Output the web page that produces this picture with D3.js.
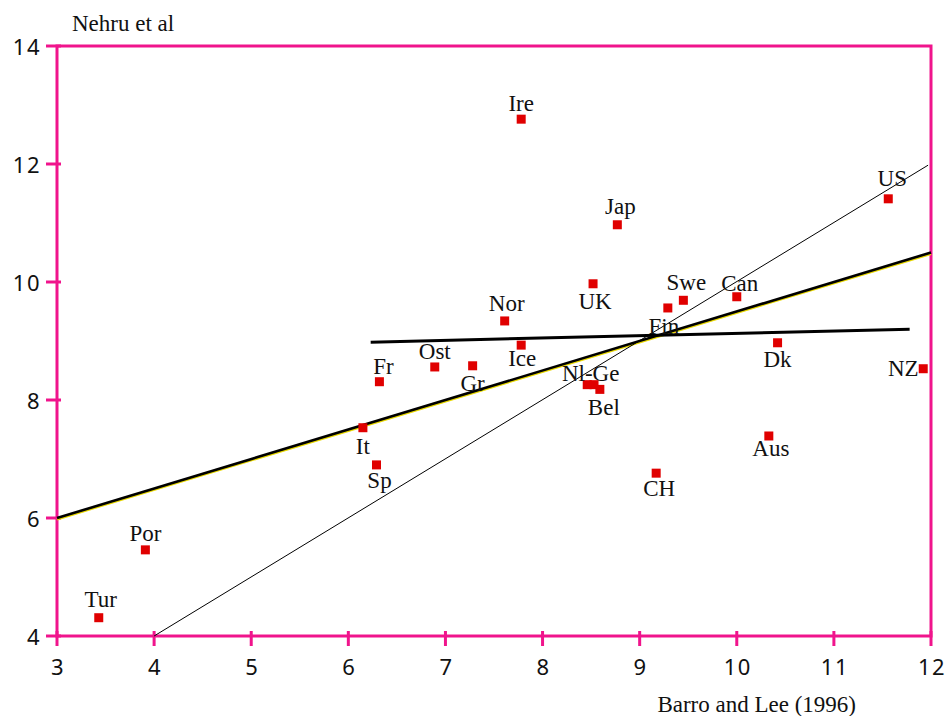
<!DOCTYPE html>
<html><head><meta charset="utf-8">
<script src="https://cdn.jsdelivr.net/npm/d3@7"></script>
<style>body{margin:0;background:#fff}</style>
</head><body>
<svg id="c" width="950" height="716"></svg>
<script>
const countries = ["Tur","Por","It","Sp","Fr","Ost","Gr","Nor","Ice","Ire","UK","Nl","Ge","Bel","Jap","CH","Fin","Swe","Can","Dk","Aus","US","NZ"];
const barroLee  = [3.43,3.91,6.15,6.29,6.32,6.89,7.28,7.61,7.78,7.78,8.52,8.46,8.53,8.59,8.77,9.17,9.29,9.45,10.0,10.42,10.33,11.56,11.92];
const nehru     = [4.31,5.46,7.53,6.90,8.31,8.56,8.58,9.34,8.93,12.76,9.97,8.26,8.26,8.18,10.97,6.76,9.56,9.69,9.75,8.97,7.39,11.41,8.53];
const xTicks = [3,4,5,6,7,8,9,10,11,12];
const yTicks = [4,6,8,10,12,14];
const fitLine  = [[3,6.0],[12,10.5]];
const diagLine = [[4,4.0],[11.97,11.98]];
const flatLine = [[6.23,8.98],[11.78,9.2]];
const xTitle = "Barro and Lee (1996)";
const yTitle = "Nehru et al";

const svg = d3.select("#c");
const L=57, R=931, T=46, B=636;
const x = d3.scaleLinear().domain([3,12]).range([L,R]);
const y = d3.scaleLinear().domain([4,14]).range([B,T]);
const pink = "#f0148c";
const serif = "Liberation Serif, Times New Roman, serif";
const sans = "Noto Sans, sans-serif";

// frame
svg.append("rect").attr("x",L).attr("y",T).attr("width",R-L).attr("height",B-T)
  .attr("fill","none").attr("stroke",pink).attr("stroke-width",3);

// x axis ticks
svg.append("g").selectAll("line").data(xTicks).join("line")
  .attr("x1",d=>x(d)).attr("x2",d=>x(d)).attr("y1",B-5).attr("y2",B+10)
  .attr("stroke",pink).attr("stroke-width",3);
svg.append("g").selectAll("text").data(xTicks).join("text")
  .attr("x",d=>x(d)+1).attr("y",B+39).attr("text-anchor","middle")
  .attr("font-family",sans).attr("font-size",22).attr("letter-spacing",1.5).attr("fill","#111")
  .text(d=>d);
// y axis ticks
svg.append("g").selectAll("line").data(yTicks).join("line")
  .attr("x1",L-11).attr("x2",L+4).attr("y1",d=>y(d)).attr("y2",d=>y(d))
  .attr("stroke",pink).attr("stroke-width",3);
svg.append("g").selectAll("text").data(yTicks).join("text")
  .attr("x",L-16).attr("y",d=>y(d)+9).attr("text-anchor","end")
  .attr("font-family",sans).attr("font-size",22).attr("letter-spacing",1.5).attr("fill","#111")
  .text(d=>d);

// titles
svg.append("text").attr("x",72).attr("y",31).attr("font-family",serif)
  .attr("font-size",23).attr("fill","#111").text(yTitle);
svg.append("text").attr("x",856).attr("y",712).attr("text-anchor","end").attr("font-family",serif)
  .attr("font-size",23).attr("fill","#111").text(xTitle);

// lines
const ln = d3.line().x(d=>x(d[0])).y(d=>y(d[1]));
svg.append("path").attr("d",ln(fitLine)).attr("transform","translate(0,1.2)")
  .attr("stroke","#e8d800").attr("stroke-width",2.5).attr("fill","none");
svg.append("path").attr("d",ln(fitLine)).attr("stroke","#000").attr("stroke-width",2.6).attr("fill","none");
svg.append("path").attr("d",ln(diagLine)).attr("stroke","#000").attr("stroke-width",1).attr("fill","none");
svg.append("path").attr("d",ln(flatLine)).attr("stroke","#000").attr("stroke-width",3).attr("fill","none");

// points
const pts = countries.map((c,i)=>({c, x:barroLee[i], y:nehru[i]}));
svg.append("g").selectAll("rect").data(pts).join("rect")
  .attr("x",d=>x(d.x)-4.5).attr("y",d=>y(d.y)-4.5).attr("width",9).attr("height",9)
  .attr("fill","#e00000");

// labels
const place = {Tur:[2,-11],Por:[0,-9],It:[0,26],Sp:[3,23],Fr:[4,-8],Ost:[0,-8],Gr:[0,25],Nor:[2,-10],
  Ice:[1,21],Ire:[0,-8],UK:[2,25],"Nl-Ge":[0,-4],Bel:[4,26],Jap:[3,-11],CH:[3,23],Fin:[-4,26],Swe:[3,-10],
  Can:[3,-6],Dk:[0,24],Aus:[2,20],US:[4,-13],NZ:[-20,7]};
const labels = pts.filter(d=>d.c!=="Nl" && d.c!=="Ge").map(d=>({t:d.c, x:d.x, y:d.y}));
labels.push({t:"Nl-Ge", x:(barroLee[11]+barroLee[12])/2, y:nehru[11]});
svg.append("g").selectAll("text").data(labels).join("text")
  .attr("x",d=>x(d.x)+place[d.t][0]).attr("y",d=>y(d.y)+place[d.t][1])
  .attr("text-anchor","middle").attr("font-family",serif)
  .attr("font-size",23).attr("fill","#111").text(d=>d.t);
</script>
</body></html>
